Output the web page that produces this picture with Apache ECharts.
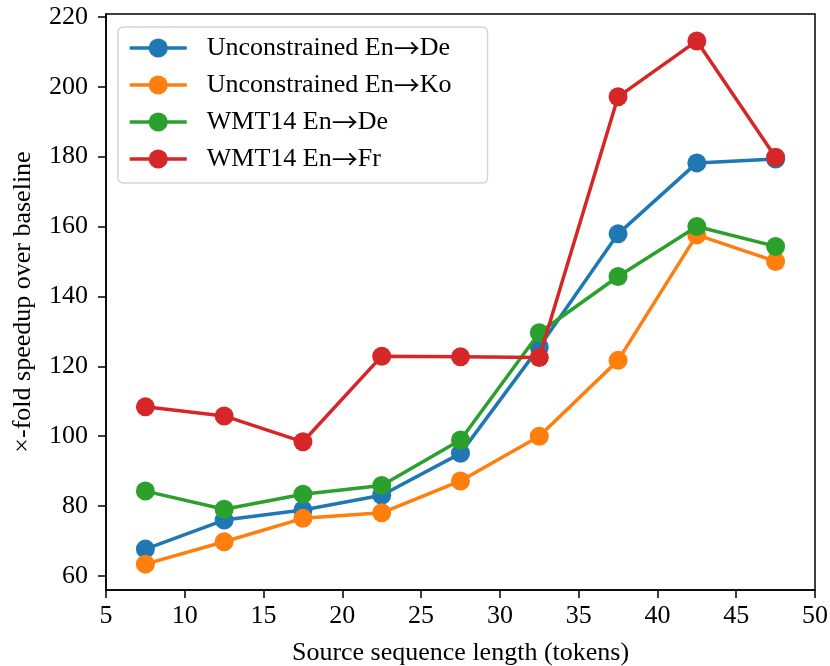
<!DOCTYPE html>
<html>
<head>
<meta charset="utf-8">
<script src="https://cdn.jsdelivr.net/npm/echarts@6/dist/echarts.min.js"></script>
<style>html,body{margin:0;padding:0;background:#fff;}#c{width:830px;height:666px;}</style>
</head>
<body>
<div id="c"></div>
<script>
const xValues = [7.5, 12.5, 17.5, 22.5, 27.5, 32.5, 37.5, 42.5, 47.5];
const seriesNames = ['Unconstrained En\u2192De', 'Unconstrained En\u2192Ko', 'WMT14 En\u2192De', 'WMT14 En\u2192Fr'];
const unconstrainedEnDe = [67.7, 76.0, 78.9, 83.1, 95.1, 125.5, 157.9, 178.2, 179.3];
const unconstrainedEnKo = [63.4, 69.8, 76.5, 78.1, 87.2, 100.0, 121.7, 157.6, 150.0];
const wmt14EnDe = [84.3, 79.1, 83.4, 85.9, 98.9, 129.6, 145.7, 160.0, 154.3];
const wmt14EnFr = [108.4, 105.8, 98.4, 122.9, 122.7, 122.5, 197.1, 213.1, 179.8];
const yTicks = [60, 80, 100, 120, 140, 160, 180, 200, 220];
const xTicks = [5, 10, 15, 20, 25, 30, 35, 40, 45, 50];
const colors = ['#1f77b4', '#ff7f0e', '#2ca02c', '#d62728'];

const allSeries = [unconstrainedEnDe, unconstrainedEnKo, wmt14EnDe, wmt14EnFr];
const FONT = 'Liberation Serif';
const FS = 26;

const chart = echarts.init(document.getElementById('c'), null, {renderer: 'canvas'});
chart.setOption({
  animation: false,
  backgroundColor: '#fff',
  textStyle: {fontFamily: FONT},
  grid: {left: 106, right: 15, top: 14, bottom: 76, show: true, borderColor: '#000', borderWidth: 1.5,
         containLabel: false, outerBoundsMode: 'none'},
  legend: {
    orient: 'vertical', left: 118, top: 27,
    itemWidth: 57, itemHeight: 24, itemGap: 11,
    padding: [8, 36, 11, 10],
    borderColor: '#d5d5d5', borderWidth: 1.5, borderRadius: 5,
    backgroundColor: 'rgba(255,255,255,0.8)',
    lineStyle: {width: 3.5},
    formatter: name => name.replace('\u2192', '{a|\u2192}'),
    textStyle: {
      fontFamily: FONT, fontSize: FS, lineHeight: 26, color: '#000', padding: [0, 0, 0, 15],
      rich: {a: {fontFamily: 'Noto Sans CJK JP', fontSize: 26, lineHeight: 26, color: '#000'}}
    },
    data: seriesNames
  },
  xAxis: {
    type: 'value', min: 5, max: 50, interval: 5,
    name: 'Source sequence length (tokens)', nameLocation: 'middle', nameGap: 50,
    nameTextStyle: {fontFamily: FONT, fontSize: FS, color: '#000'},
    axisLine: {show: true, lineStyle: {color: '#000', width: 1.5}},
    axisTick: {show: true, inside: false, length: 8, lineStyle: {color: '#000', width: 1.5}},
    axisLabel: {fontFamily: FONT, fontSize: FS, color: '#000', margin: 13},
    splitLine: {show: false}
  },
  yAxis: {
    type: 'value', min: 56, max: 220.8,
    name: '\u00d7-fold speedup over baseline', nameLocation: 'middle', nameGap: 70,
    nameTextStyle: {fontFamily: FONT, fontSize: FS, color: '#000'},
    axisLine: {show: true, lineStyle: {color: '#000', width: 1.5}},
    axisTick: {show: true, length: 8, lineStyle: {color: '#000', width: 1.5}, customValues: yTicks},
    axisLabel: {fontFamily: FONT, fontSize: FS, color: '#000', margin: 18, customValues: yTicks},
    splitLine: {show: false}
  },
  series: allSeries.map((vals, i) => ({
    name: seriesNames[i],
    type: 'line',
    data: xValues.map((x, j) => [x, vals[j]]),
    symbol: 'circle', symbolSize: 19,
    lineStyle: {width: 3.5, color: colors[i]},
    itemStyle: {color: colors[i]},
    z: 2 + i
  }))
});
</script>
</body>
</html>
